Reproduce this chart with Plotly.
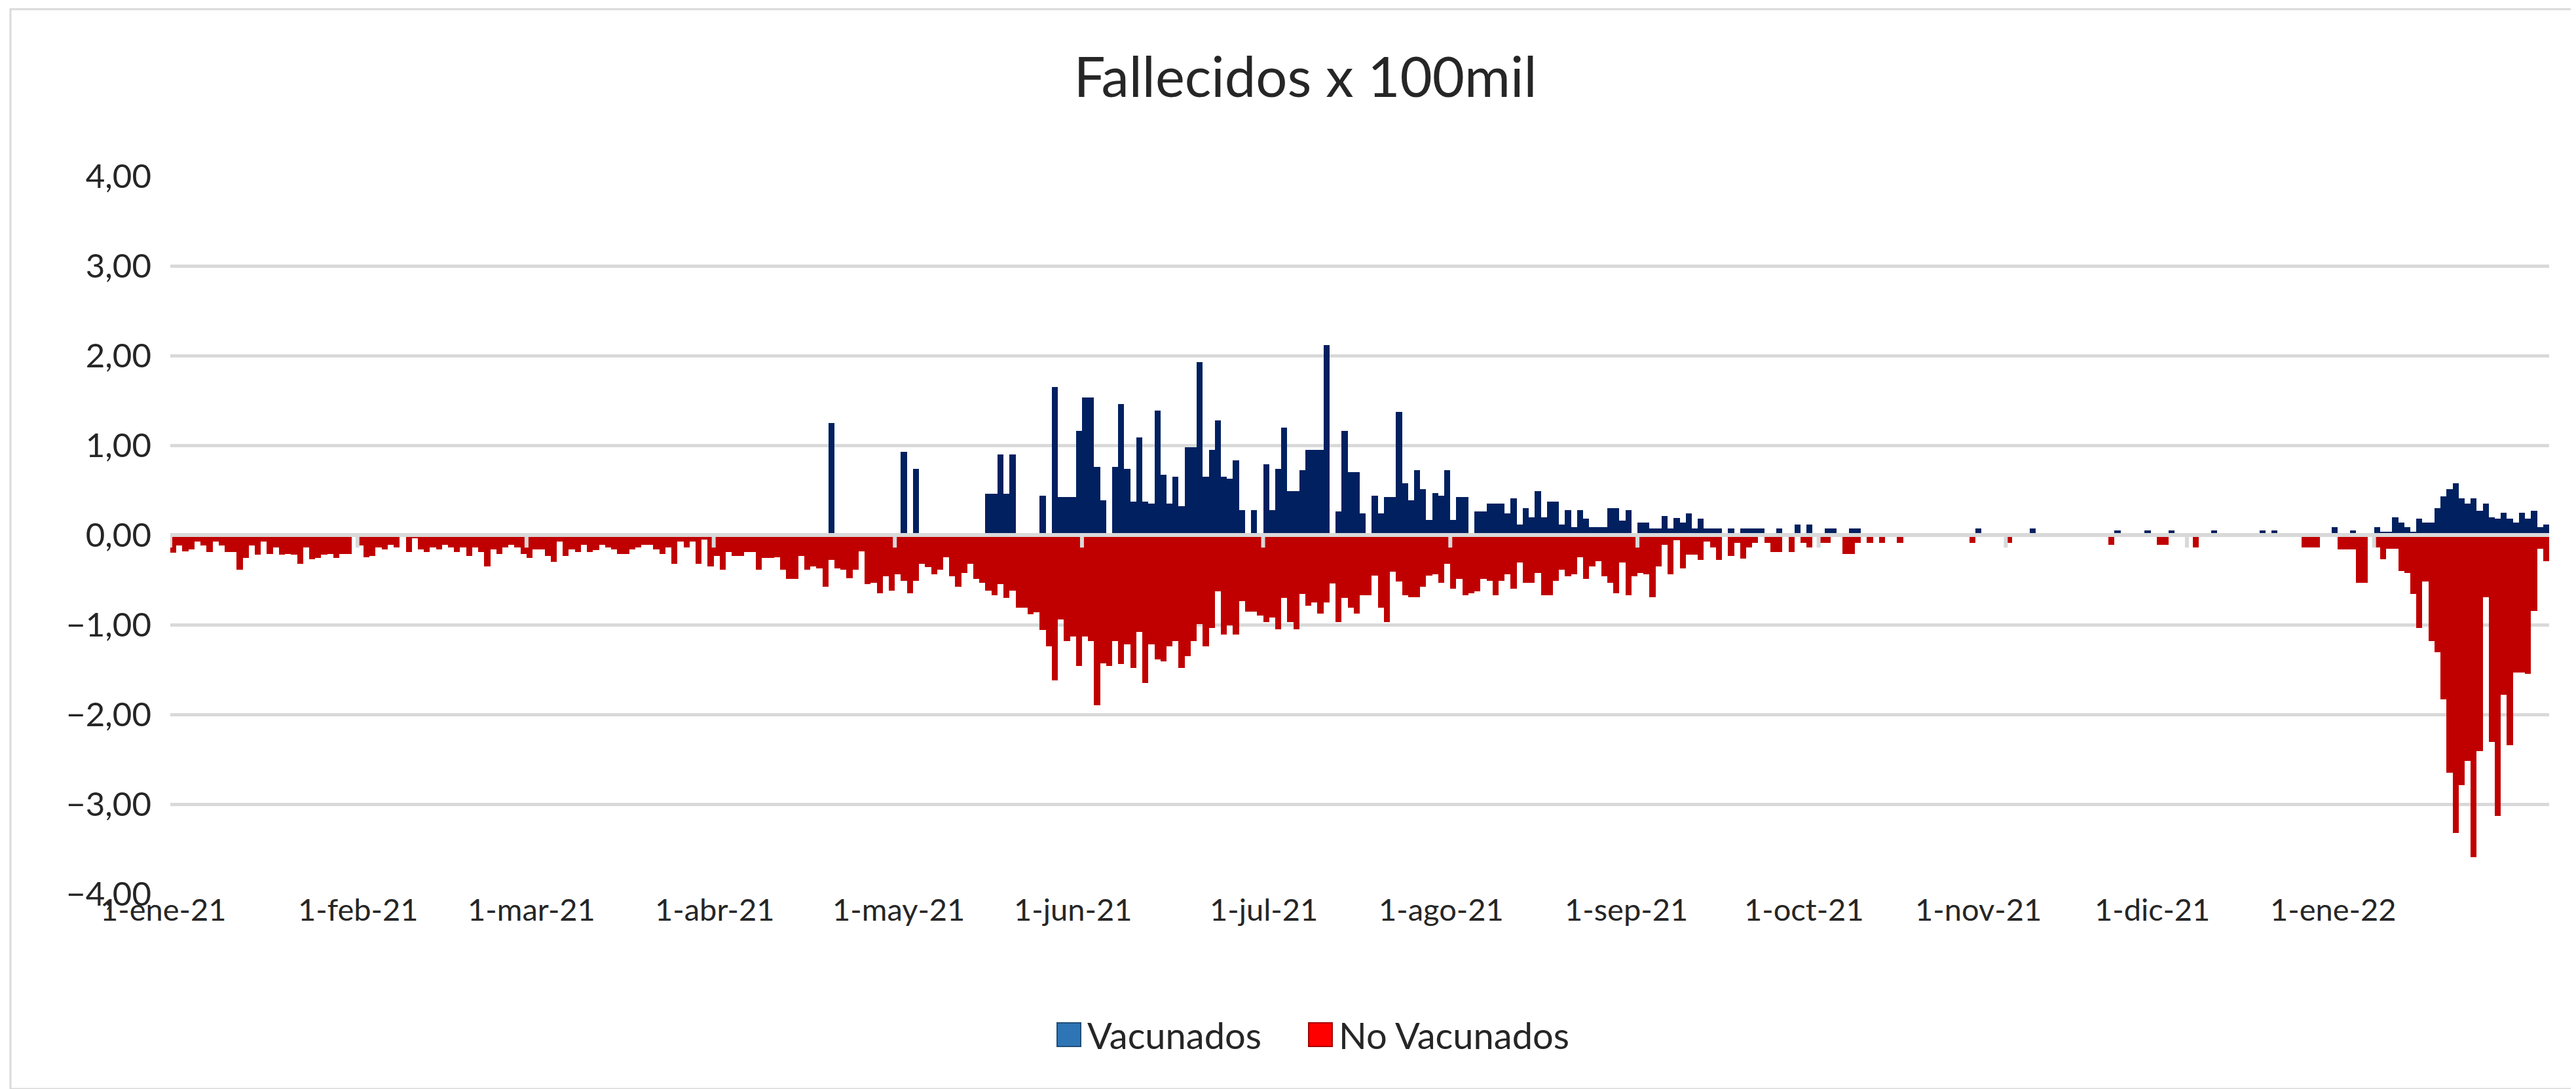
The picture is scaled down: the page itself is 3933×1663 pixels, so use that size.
import plotly.graph_objects as go
import pandas as pd

# ==================== DATOS ====================
# Fallecidos por 100 mil habitantes, diario desde 1-ene-21
inicio = "2021-01-01"

vacunados = [
    # ene-21
    0, 0, 0, 0, 0, 0, 0, 0, 0, 0, 0, 0, 0, 0, 0, 0, 0, 0, 0, 0, 0, 0, 0, 0, 0, 0, 0, 0, 0, 0, 0,
    # feb-21
    0, 0, 0, 0, 0, 0, 0, 0, 0, 0, 0, 0, 0, 0, 0, 0, 0, 0, 0, 0, 0, 0, 0, 0, 0, 0, 0, 0,
    # mar-21
    0, 0, 0, 0, 0, 0, 0, 0, 0, 0, 0, 0, 0, 0, 0, 0, 0, 0, 0, 0, 0, 0, 0, 0, 0, 0, 0, 0, 0, 0, 0,
    # abr-21
    0, 0, 0, 0, 0, 0, 0, 0, 0, 0, 0, 0, 0, 0, 0, 0, 0, 0, 0, 1.25, 0, 0, 0, 0, 0, 0, 0, 0, 0, 0,
    # may-21
    0, 0.93, 0, 0.74, 0, 0, 0, 0, 0, 0, 0, 0, 0, 0, 0, 0.46, 0.46, 0.90, 0.46, 0.90,
    0, 0, 0, 0, 0.44, 0, 1.65, 0.42, 0.42, 0.42, 1.16,
    # jun-21
    1.53, 1.53, 0.76, 0.39, 0, 0.76, 1.46, 0.74, 0.375, 1.09, 0.375, 0.35, 1.39, 0.67, 0.35,
    0.65, 0.32, 0.975, 0.975, 1.93, 0.65, 0.95, 1.28, 0.65, 0.625, 0.83, 0.28, 0, 0.28, 0,
    # jul-21
    0.79, 0.28, 0.74, 1.20, 0.49, 0.49, 0.72, 0.95, 0.95, 0.95, 2.12, 0, 0.26, 1.16, 0.70, 0.70,
    0.24, 0, 0.44, 0.24, 0.42, 0.42, 1.37, 0.58, 0.39, 0.72, 0.51, 0.17, 0.47, 0.44, 0.72,
    # ago-21
    0.17, 0.42, 0.42, 0, 0.26, 0.26, 0.35, 0.35, 0.35, 0.24, 0.41, 0.12, 0.30, 0.20, 0.49, 0.20,
    0.375, 0.375, 0.12, 0.28, 0.09, 0.28, 0.18, 0.09, 0.09, 0.09, 0.30, 0.30, 0.16, 0.28, 0,
    # sep-21
    0.14, 0.14, 0.07, 0.07, 0.21, 0.07, 0.19, 0.14, 0.24, 0.07, 0.18, 0.07, 0.07, 0.07, 0,
    0.07, 0, 0.07, 0.07, 0.07, 0.07, 0, 0, 0.07, 0, 0, 0.12, 0, 0.12, 0,
    # oct-21
    0, 0.07, 0.07, 0, 0, 0.07, 0.07, 0, 0, 0, 0, 0, 0, 0, 0, 0, 0, 0, 0, 0, 0, 0, 0, 0, 0, 0,
    0.07, 0, 0, 0, 0,
    # nov-21
    0, 0, 0, 0, 0.07, 0, 0, 0, 0, 0, 0, 0, 0, 0, 0, 0, 0, 0, 0.05, 0, 0, 0, 0, 0.05, 0, 0, 0,
    0.05, 0, 0,
    # dic-21
    0, 0, 0, 0, 0.05, 0, 0, 0, 0, 0, 0, 0, 0.05, 0, 0.05, 0, 0, 0, 0, 0, 0, 0, 0, 0, 0.09, 0, 0,
    0.05, 0, 0, 0,
    # ene-22
    0.085, 0.04, 0.04, 0.20, 0.14, 0.09, 0.04, 0.18, 0.14, 0.14, 0.30, 0.43, 0.51, 0.58, 0.41,
    0.35, 0.41, 0.27, 0.35, 0.20, 0.18, 0.25, 0.18, 0.14, 0.25, 0.18, 0.27, 0.09, 0.12,
]

no_vacunados = [
    # ene-21
    -0.20, -0.115, -0.18, -0.16, -0.07, -0.115, -0.19, -0.07, -0.115, -0.19, -0.19, -0.39, -0.255,
    -0.115, -0.22, -0.07, -0.21, -0.14, -0.22, -0.21, -0.22, -0.32, -0.14, -0.27, -0.255, -0.22,
    -0.21, -0.255, -0.21, -0.21, -0.02,
    # feb-21
    -0.115, -0.25, -0.23, -0.14, -0.16, -0.11, -0.14, 0, -0.19, -0.04, -0.16, -0.19, -0.14, -0.16,
    -0.11, -0.14, -0.19, -0.14, -0.23, -0.14, -0.19, -0.35, -0.16, -0.21, -0.14, -0.11, -0.14, -0.21,
    # mar-21
    -0.255, -0.16, -0.16, -0.23, -0.30, -0.07, -0.23, -0.16, -0.19, -0.11, -0.19, -0.17, -0.11,
    -0.14, -0.16, -0.21, -0.21, -0.16, -0.14, -0.11, -0.11, -0.16, -0.21, -0.14, -0.32, -0.07,
    -0.14, -0.07, -0.32, -0.05, -0.35,
    # abr-21
    -0.23, -0.39, -0.19, -0.23, -0.23, -0.19, -0.19, -0.39, -0.255, -0.255, -0.25, -0.39, -0.49,
    -0.49, -0.23, -0.39, -0.35, -0.37, -0.58, -0.28, -0.37, -0.39, -0.48, -0.39, -0.18, -0.55,
    -0.53, -0.65, -0.46, -0.62,
    # may-21
    -0.44, -0.51, -0.65, -0.51, -0.32, -0.36, -0.44, -0.39, -0.25, -0.46, -0.58, -0.42, -0.32,
    -0.49, -0.53, -0.62, -0.67, -0.55, -0.70, -0.62, -0.81, -0.81, -0.88, -0.86, -1.06, -1.24,
    -1.62, -0.94, -1.18, -1.13, -1.46,
    # jun-21
    -1.13, -1.18, -1.90, -1.43, -1.46, -1.18, -1.44, -1.22, -1.48, -1.08, -1.65, -1.22, -1.39,
    -1.41, -1.24, -1.18, -1.48, -1.35, -1.18, -0.99, -1.24, -1.04, -0.625, -1.11, -1.01, -1.11,
    -0.74, -0.855, -0.855, -0.90,
    # jul-21
    -0.97, -0.92, -1.05, -0.70, -0.97, -1.05, -0.66, -0.79, -0.75, -0.875, -0.75, -0.54, -0.97,
    -0.70, -0.81, -0.875, -0.67, -0.67, -0.45, -0.81, -0.97, -0.41, -0.52, -0.67, -0.69, -0.69,
    -0.575, -0.45, -0.44, -0.53, -0.32,
    # ago-21
    -0.60, -0.49, -0.67, -0.65, -0.625, -0.49, -0.51, -0.67, -0.51, -0.44, -0.60, -0.31, -0.53,
    -0.53, -0.42, -0.67, -0.67, -0.51, -0.39, -0.46, -0.44, -0.25, -0.49, -0.35, -0.29, -0.46,
    -0.53, -0.65, -0.31, -0.67, -0.46,
    # sep-21
    -0.42, -0.44, -0.69, -0.35, -0.11, -0.44, -0.06, -0.37, -0.22, -0.22, -0.28, -0.07, -0.14,
    -0.28, 0, -0.23, -0.09, -0.26, -0.14, -0.09, 0, -0.09, -0.19, -0.19, 0, -0.19, 0, -0.09,
    -0.14, 0,
    # oct-21
    -0.09, -0.09, 0, 0, -0.21, -0.21, -0.09, 0, -0.09, 0, -0.09, 0, 0, -0.09, 0, 0, 0, 0, 0, 0,
    0, 0, 0, 0, 0, -0.09, 0, 0, 0, 0, 0,
    # nov-21
    -0.09, 0, 0, 0, 0, 0, 0, 0, 0, 0, 0, 0, 0, 0, 0, 0, 0, -0.11, 0, 0, 0, 0, 0, 0, 0, -0.11,
    -0.11, 0, 0, 0,
    # dic-21
    0, -0.14, 0, 0, 0, 0, 0, 0, 0, 0, 0, 0, 0, 0, 0, 0, 0, 0, 0, -0.14, -0.14, -0.14, 0, 0, 0,
    -0.16, -0.16, -0.16, -0.53, -0.53, 0,
    # ene-22
    -0.14, -0.27, -0.155, -0.155, -0.40, -0.42, -0.66, -1.04, -0.52, -1.18, -1.31, -1.83, -2.65,
    -3.32, -2.79, -2.52, -3.59, -2.41, -0.69, -2.31, -3.13, -1.78, -2.34, -1.53, -1.53, -1.545,
    -0.85, -0.155, -0.29,
]

meses = ["2021-01-01", "2021-02-01", "2021-03-01", "2021-04-01", "2021-05-01", "2021-06-01",
         "2021-07-01", "2021-08-01", "2021-09-01", "2021-10-01", "2021-11-01", "2021-12-01",
         "2022-01-01"]
etiquetas_meses = ["1-ene-21", "1-feb-21", "1-mar-21", "1-abr-21", "1-may-21", "1-jun-21",
                   "1-jul-21", "1-ago-21", "1-sep-21", "1-oct-21", "1-nov-21", "1-dic-21",
                   "1-ene-22"]

fechas = pd.date_range(inicio, periods=len(vacunados), freq="D")

# ==================== GEOMETRIA (px) ====================
W, H = 3933, 1663
L, R, T, B = 252, 3884, 261, 1357   # area de trazado
FONT = "Lato"
GRIS = "#D9D9D9"
TXT = "#262626"
# centro (px) de cada etiqueta de mes tal como la pone Excel (algo corrida a la izquierda)
pos_etiquetas = [241, 539, 803, 1083, 1364, 1630, 1921, 2192, 2475, 2746, 3012, 3278, 3554]


def px_x(x):
    return (x - L) / (R - L)


def px_y(y):
    return (B - y) / (B - T)


fig = go.Figure()
fig.add_trace(go.Bar(x=fechas, y=vacunados, name="Vacunados", marker_color="#002060",
                     marker_line_width=0, xperiod=86400000, xperiodalignment="middle",
                     showlegend=False))
fig.add_trace(go.Bar(x=fechas, y=no_vacunados, name="No Vacunados", marker_color="#C00000",
                     marker_line_width=0, xperiod=86400000, xperiodalignment="middle",
                     showlegend=False))

fig.update_layout(
    width=W, height=H,
    margin=dict(l=L, r=W - R, t=T, b=H - B),
    barmode="relative", bargap=0,
    plot_bgcolor="white", paper_bgcolor="white",
    separators=",.",
    font=dict(family=FONT, size=50, color=TXT),
    title=dict(text="Fallecidos x 100mil", x=1985 / W, xanchor="center",
               y=1 - 110 / H, yanchor="middle",
               font=dict(family=FONT, size=85, color=TXT)),
)
fig.update_yaxes(range=[-4, 4], dtick=1, tickformat=".2f", showgrid=True, gridcolor=GRIS,
                 gridwidth=5, zeroline=False, ticks="", showline=False,
                 ticklabelstandoff=28, tickfont=dict(size=51, color=TXT))
fig.update_xaxes(type="date", range=["2021-01-01", "2022-01-30"], showticklabels=False,
                 showgrid=False, zeroline=False, ticks="", showline=False)

# eje horizontal en cero y marcas de mes
shapes = [dict(type="line", xref="paper", yref="y", x0=0, x1=1, y0=0, y1=0,
               line=dict(color=GRIS, width=6))]
for m in meses:
    shapes.append(dict(type="line", xref="x", yref="y", x0=m, x1=m, y0=0, y1=-0.14,
                       line=dict(color=GRIS, width=6)))

# borde del area del grafico
shapes.append(dict(type="rect", xref="paper", yref="paper", layer="below",
                   x0=px_x(8), x1=px_x(3925), y0=px_y(1655), y1=px_y(6),
                   line=dict(color=GRIS, width=3), fillcolor="rgba(0,0,0,0)"))

annotations = []
# etiquetas del eje de fechas
for texto, xc in zip(etiquetas_meses, pos_etiquetas):
    annotations.append(dict(text=texto, xref="paper", yref="paper", x=px_x(xc), y=px_y(1380),
                            xanchor="center", yanchor="middle", showarrow=False,
                            font=dict(family=FONT, size=47, color=TXT)))

# leyenda dibujada a mano (cuadros grandes como en Excel)
leyenda = [("Vacunados", "#2E75B6", "#1F4E79", 1606), ("No Vacunados", "#FF0000", "#A50000", 1990)]
for nombre, relleno, borde, x0 in leyenda:
    shapes.append(dict(type="rect", xref="paper", yref="paper",
                       x0=px_x(x0), x1=px_x(x0 + 36), y0=px_y(1590), y1=px_y(1554),
                       fillcolor=relleno, line=dict(color=borde, width=2)))
    annotations.append(dict(text=nombre, xref="paper", yref="paper", x=px_x(x0 + 44),
                            y=px_y(1572), xanchor="left", yanchor="middle", showarrow=False,
                            font=dict(family=FONT, size=56, color=TXT)))

fig.update_layout(shapes=shapes, annotations=annotations)

fig.write_html("out.html")
